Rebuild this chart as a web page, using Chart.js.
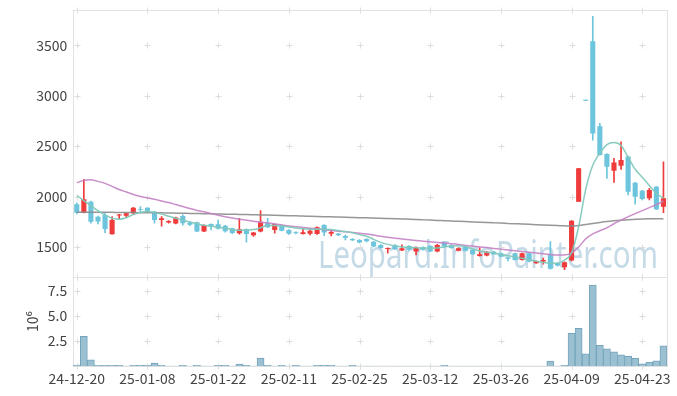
<!DOCTYPE html>
<html>
<head>
<meta charset="utf-8">
<script src="https://cdn.jsdelivr.net/npm/chart.js@4.4.1/dist/chart.umd.min.js"></script>
<style>
  body { margin: 0; background: #fff; }
  #wrap { width: 677px; height: 396px; }
</style>
</head>
<body>
<div id="wrap"><canvas id="stockChart" width="677" height="396"></canvas></div>
<script>
// trading days (yy-mm-dd)
const dates = ['24-12-20','24-12-23','24-12-24','24-12-26','24-12-27','24-12-30','25-01-02','25-01-03','25-01-06','25-01-07',
  '25-01-08','25-01-09','25-01-10','25-01-13','25-01-14','25-01-15','25-01-16','25-01-17','25-01-20','25-01-21',
  '25-01-22','25-01-23','25-01-24','25-01-31','25-02-03','25-02-04','25-02-05','25-02-06','25-02-07','25-02-10',
  '25-02-11','25-02-12','25-02-13','25-02-14','25-02-17','25-02-18','25-02-19','25-02-20','25-02-21','25-02-24',
  '25-02-25','25-02-26','25-02-27','25-02-28','25-03-04','25-03-05','25-03-06','25-03-07','25-03-10','25-03-11',
  '25-03-12','25-03-13','25-03-14','25-03-17','25-03-18','25-03-19','25-03-20','25-03-21','25-03-24','25-03-25',
  '25-03-26','25-03-27','25-03-28','25-03-31','25-04-01','25-04-02','25-04-03','25-04-04','25-04-07','25-04-08',
  '25-04-09','25-04-10','25-04-11','25-04-14','25-04-15','25-04-16','25-04-17','25-04-18','25-04-21','25-04-22',
  '25-04-23','25-04-24','25-04-25','25-04-28'];

const openPrices = [1923,1840,1948,1800,1817,1626,1812,1808,1834,1876,
  1889,1850,1767,1742,1731,1807,1740,1744,1652,1728,
  1725,1711,1685,1636,1675,1615,1652,1740,1668,1718,
  1668,1645,1628,1630,1629,1718,1630,1632,1609,1579,
  1569,1579,1552,1520,1478,1520,1465,1510,1455,1497,
  1510,1455,1543,1520,1463,1503,1470,1411,1414,1453,
  1437,1398,1437,1371,1437,1338,1355,1421,1340,1297,
  1364,1949,2960,3540,2698,2421,2255,2305,2398,2137,
  2058,1982,2097,1899];
const highPrices = [1936,2170,1955,1805,1834,1800,1824,1836,1892,1899,
  1890,1852,1800,1760,1795,1817,1750,1746,1720,1730,
  1767,1713,1687,1784,1680,1645,1860,1784,1730,1720,
  1672,1650,1675,1680,1700,1722,1665,1635,1618,1582,
  1572,1582,1555,1522,1492,1522,1520,1512,1500,1500,
  1512,1525,1550,1522,1490,1505,1472,1493,1456,1456,
  1440,1400,1440,1440,1440,1363,1388,1552,1345,1352,
  1760,2279,2960,3787,2725,2425,2378,2542,2400,2140,
  2060,2081,2100,2345];
const lowPrices = [1826,1838,1735,1728,1640,1626,1778,1795,1825,1850,
  1848,1735,1705,1735,1728,1715,1710,1650,1650,1668,
  1676,1645,1632,1626,1547,1605,1648,1690,1636,1658,
  1625,1628,1626,1620,1625,1612,1608,1612,1570,1562,
  1540,1550,1500,1485,1437,1475,1462,1468,1421,1468,
  1452,1450,1500,1485,1460,1458,1425,1408,1410,1425,
  1400,1361,1368,1368,1350,1335,1329,1280,1310,1275,
  1362,1949,2950,2560,2410,2180,2140,2269,2015,1923,
  1965,1965,1870,1840];
const closePrices = [1840,1972,1750,1752,1678,1767,1822,1834,1889,1868,
  1850,1767,1784,1757,1791,1735,1720,1652,1718,1705,
  1680,1655,1638,1675,1628,1642,1750,1695,1728,1661,
  1630,1635,1645,1661,1695,1642,1648,1616,1590,1566,
  1543,1555,1505,1490,1488,1478,1487,1472,1497,1472,
  1455,1520,1505,1488,1487,1462,1428,1428,1453,1428,
  1404,1382,1371,1437,1355,1361,1370,1283,1315,1348,
  1760,2279,2950,2626,2411,2295,2338,2361,2047,1998,
  1975,2064,1873,1982];
const volumes = [100000,2970000,630000,80000,80000,80000,80000,20000,80000,80000,
  80000,300000,80000,20000,20000,80000,20000,80000,20000,20000,
  80000,80000,20000,200000,80000,20000,800000,80000,20000,80000,
  20000,80000,20000,20000,80000,80000,80000,20000,20000,80000,
  20000,20000,20000,20000,20000,20000,20000,20000,20000,20000,
  20000,20000,80000,20000,20000,20000,20000,20000,20000,20000,
  20000,20000,20000,20000,20000,20000,20000,500000,20000,80000,
  3270000,3760000,1220000,8050000,2080000,1720000,1420000,1120000,990000,790000,
  230000,400000,530000,2010000];

// moving averages
const ma5 = [2010,1960,1910,1860,1815,1785,1775,1790,1820,1842,
  1850,1840,1825,1805,1785,1765,1748,1730,1715,1705,
  1695,1685,1672,1665,1668,1672,1690,1712,1712,1708,
  1698,1688,1680,1676,1675,1675,1672,1662,1652,1640,
  1622,1605,1575,1545,1525,1510,1500,1495,1492,1488,
  1487,1490,1500,1510,1512,1503,1480,1460,1448,1438,
  1425,1412,1400,1388,1372,1358,1345,1338,1338,1370,
  1440,1700,2070,2310,2430,2515,2535,2505,2390,2270,
  2190,2110,2030,1985];
const ma20 = [2137,2160,2165,2150,2130,2100,2070,2045,2020,2000,
  1985,1972,1955,1940,1920,1900,1880,1862,1848,1832,
  1815,1800,1787,1775,1765,1755,1745,1738,1728,1718,
  1708,1700,1693,1685,1678,1670,1663,1656,1650,1643,
  1636,1628,1618,1605,1595,1587,1578,1570,1563,1557,
  1550,1544,1538,1532,1525,1515,1508,1500,1493,1485,
  1478,1470,1462,1455,1448,1440,1432,1425,1420,1420,
  1440,1500,1580,1630,1660,1690,1730,1765,1800,1830,
  1860,1890,1920,1955];
const ma60 = [1845,1845,1844,1844,1843,1843,1842,1842,1841,1840,
  1840,1839,1838,1836,1835,1834,1832,1831,1830,1828,
  1827,1825,1824,1822,1821,1819,1817,1816,1814,1812,
  1810,1808,1806,1804,1802,1800,1798,1796,1794,1792,
  1790,1788,1786,1784,1782,1780,1778,1775,1772,1769,
  1766,1763,1760,1757,1754,1751,1748,1745,1742,1739,
  1736,1733,1730,1727,1724,1721,1718,1715,1712,1709,
  1707,1712,1722,1733,1743,1752,1759,1765,1770,1774,
  1778,1780,1780,1777];

const priceTicks = [1500, 2000, 2500, 3000, 3500];
const volumeTicks = [2500000, 5000000, 7500000];

const UP = '#ef3b3b';
const DOWN = '#6cc5dc';

const bodies = openPrices.map((o, i) => [Math.min(o, closePrices[i]), Math.max(o, closePrices[i])]);
const wicks = lowPrices.map((l, i) => [l, highPrices[i]]);
const candleColors = closePrices.map((c, i) => c >= openPrices[i] ? UP : DOWN);

const tickFont = { family: '"Noto Sans CJK KR", "Noto Sans", sans-serif', size: 14 };

// watermark, grid crosses and panel frames
const panelDecor = {
  id: 'panelDecor',
  beforeDatasetsDraw(chart) {
    const { ctx, scales: { x, y, yv } } = chart;
    ctx.save();

    // watermark
    ctx.font = '38px "Noto Sans", sans-serif';
    ctx.fillStyle = 'rgba(155, 192, 214, 0.58)';
    ctx.textBaseline = 'alphabetic';
    const text = 'Leopard.InfoPainter.com';
    const w = ctx.measureText(text).width;
    const target = 340;
    ctx.translate(x.right - 9 - target, y.bottom - 9);
    ctx.scale(target / w, 1);
    ctx.fillText(text, 0, 0);
    ctx.setTransform(1, 0, 0, 1, 0, 0);

    // little crosses where grid lines would meet
    ctx.strokeStyle = '#dddddd';
    ctx.lineWidth = 1;
    const rows = [y.top, y.bottom, yv.top, yv.bottom]
      .concat(priceTicks.map(v => y.getPixelForValue(v)))
      .concat(volumeTicks.map(v => yv.getPixelForValue(v)));
    for (let i = 0; i < dates.length; i += 10) {
      const px = Math.round(x.getPixelForValue(i)) + 0.5;
      rows.forEach(r => {
        const py = Math.round(r) + 0.5;
        ctx.beginPath();
        ctx.moveTo(px - 3, py); ctx.lineTo(px + 3, py);
        ctx.moveTo(px, py - 3); ctx.lineTo(px, py + 3);
        ctx.stroke();
      });
    }

    // panel frames
    ctx.strokeStyle = '#e2e2e2';
    ctx.strokeRect(Math.round(x.left) + 0.5, Math.round(y.top) + 0.5, Math.round(x.right - x.left), Math.round(y.bottom - y.top));
    ctx.strokeRect(Math.round(x.left) + 0.5, Math.round(yv.top) + 0.5, Math.round(x.right - x.left), Math.round(yv.bottom - yv.top));
    ctx.restore();
  }
};

// tick labels sit well inside the panels, so no extra room is needed above/below
const noEndPadding = s => { s.paddingTop = 0; s.paddingBottom = 0; };

const ctx = document.getElementById('stockChart').getContext('2d');
new Chart(ctx, {
  data: {
    labels: dates,
    datasets: [
      {
        type: 'line', label: 'MA5', data: ma5, yAxisID: 'y',
        borderColor: 'rgba(130, 200, 188, 0.95)', borderWidth: 1.5,
        pointRadius: 0, cubicInterpolationMode: 'monotone', order: 1
      },
      {
        type: 'line', label: 'MA20', data: ma20, yAxisID: 'y',
        borderColor: 'rgba(196, 130, 196, 0.9)', borderWidth: 1.5,
        pointRadius: 0, cubicInterpolationMode: 'monotone', order: 2
      },
      {
        type: 'line', label: 'MA60', data: ma60, yAxisID: 'y',
        borderColor: 'rgba(140, 140, 140, 0.9)', borderWidth: 1.5,
        pointRadius: 0, cubicInterpolationMode: 'monotone', order: 3
      },
      {
        type: 'bar', label: 'body', data: bodies, yAxisID: 'y',
        backgroundColor: candleColors, borderWidth: 0,
        barPercentage: 0.72, categoryPercentage: 1, grouped: false, order: 4
      },
      {
        type: 'bar', label: 'wick', data: wicks, yAxisID: 'y',
        backgroundColor: candleColors, borderWidth: 0,
        barThickness: 1, grouped: false, order: 5
      },
      {
        type: 'bar', label: 'volume', data: volumes, yAxisID: 'yv',
        backgroundColor: '#9bc0d1', borderColor: '#74a5bc', borderWidth: 1,
        barPercentage: 1, categoryPercentage: 1, grouped: false, order: 6
      }
    ]
  },
  options: {
    responsive: false,
    animation: false,
    layout: { padding: { left: 20, right: 10, top: 10, bottom: 5 } },
    plugins: { legend: { display: false }, tooltip: { enabled: false } },
    scales: {
      x: {
        type: 'category',
        offset: true,
        grid: { display: false, drawTicks: false },
        border: { display: false },
        ticks: {
          autoSkip: false, maxRotation: 0, padding: 4,
          color: '#444', font: tickFont,
          callback: (v, i) => (i % 10 === 0 ? dates[i] : null)
        }
      },
      yv: {
        type: 'linear', position: 'left', stack: 'panels', stackWeight: 1,
        min: 0, max: 8830000,
        afterBuildTicks: s => { s.ticks = volumeTicks.map(v => ({ value: v })); },
        afterFit: noEndPadding,
        grid: { display: false, drawTicks: false },
        border: { display: false },
        title: { display: true, text: '10⁶', color: '#444', font: tickFont, padding: { top: 4, bottom: 1 } },
        ticks: {
          padding: 6, color: '#444', font: tickFont,
          callback: v => (v / 1e6).toFixed(1)
        }
      },
      y: {
        type: 'linear', position: 'left', stack: 'panels', stackWeight: 3,
        min: 1200, max: 3850,
        afterBuildTicks: s => { s.ticks = priceTicks.map(v => ({ value: v })); },
        afterFit: noEndPadding,
        grid: { display: false, drawTicks: false },
        border: { display: false },
        ticks: { padding: 6, color: '#444', font: tickFont, callback: v => String(v) }
      }
    }
  },
  plugins: [panelDecor]
});
</script>
</body>
</html>
